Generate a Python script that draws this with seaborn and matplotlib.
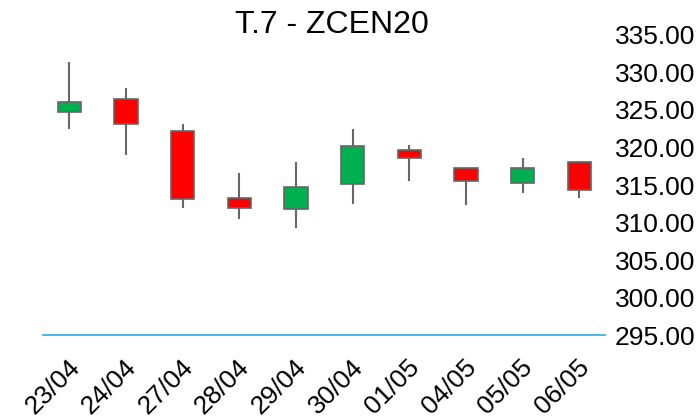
import matplotlib
matplotlib.use("Agg")
import matplotlib.pyplot as plt
import matplotlib.transforms as mtransforms
import numpy as np
import pandas as pd
import seaborn as sns
from matplotlib.ticker import FormatStrFormatter

# 日线数据
dates = ['23/04', '24/04', '27/04', '28/04', '29/04', '30/04', '01/05', '04/05', '05/05', '06/05']
open_px = [324.7, 326.5, 322.2, 313.3, 311.8, 315.1, 319.6, 317.2, 315.3, 318.1]
close_px = [326.1, 323.1, 313.2, 311.9, 314.7, 320.2, 318.6, 315.5, 317.2, 314.3]
high_px = [331.4, 327.9, 323.1, 316.6, 318.1, 322.4, 320.3, 317.3, 318.6, 318.2]
low_px = [322.4, 319.0, 312.0, 310.5, 309.3, 312.5, 315.5, 312.4, 314.0, 313.3]
y_ticks = [295, 300, 305, 310, 315, 320, 325, 330, 335]


def draw_candles(df, ax):
    x = np.arange(len(df))
    up = df['close'] >= df['open']
    colors = np.where(up, '#00b050', '#ff0000')
    # 影线
    ax.vlines(x, df['low'], df['high'], color='#666666', linewidth=1.5, zorder=1)
    # 实体
    body_bottom = df[['open', 'close']].min(axis=1)
    body_height = (df['close'] - df['open']).abs()
    ax.bar(x, body_height, bottom=body_bottom, width=0.41, color=colors,
           edgecolor='#666666', linewidth=1.2, zorder=2)
    return x


def run():
    df = pd.DataFrame({'date': dates, 'open': open_px, 'close': close_px,
                       'high': high_px, 'low': low_px})

    sns.set_theme(style='white')
    plt.rcParams['font.family'] = ['Liberation Sans', 'DejaVu Sans']

    fig = plt.figure(figsize=(6.99, 4.2), dpi=100)
    ax = fig.add_axes([0.062, 0.202, 0.804, 0.715])

    x = draw_candles(df, ax)

    ax.set_xlim(-0.46, 9.46)
    ax.set_ylim(295, 335)
    ax.set_xticks(x)
    ax.set_xticklabels(df['date'], rotation=45, ha='right', rotation_mode='anchor')
    ax.set_yticks(y_ticks)
    ax.yaxis.set_major_formatter(FormatStrFormatter('%.2f'))
    ax.yaxis.tick_right()
    ax.tick_params(axis='y', length=0, pad=7, labelsize=19, colors='black')
    ax.tick_params(axis='x', length=0, pad=14, labelsize=19, colors='black')

    # 日期标签稍微左移
    shift = mtransforms.ScaledTranslation(-0.02, 0, fig.dpi_scale_trans)
    for lbl in ax.get_xticklabels():
        lbl.set_transform(lbl.get_transform() + shift)

    for side in ['top', 'left', 'right']:
        ax.spines[side].set_visible(False)
    ax.spines['bottom'].set_color('#29abe2')
    ax.spines['bottom'].set_linewidth(1.2)
    ax.grid(False)

    ax.set_title('T.7 - ZCEN20', fontsize=23, x=0.513, pad=1, color='black')

    fig.savefig('out.png', dpi=100)


if __name__ == "__main__":
    run()
